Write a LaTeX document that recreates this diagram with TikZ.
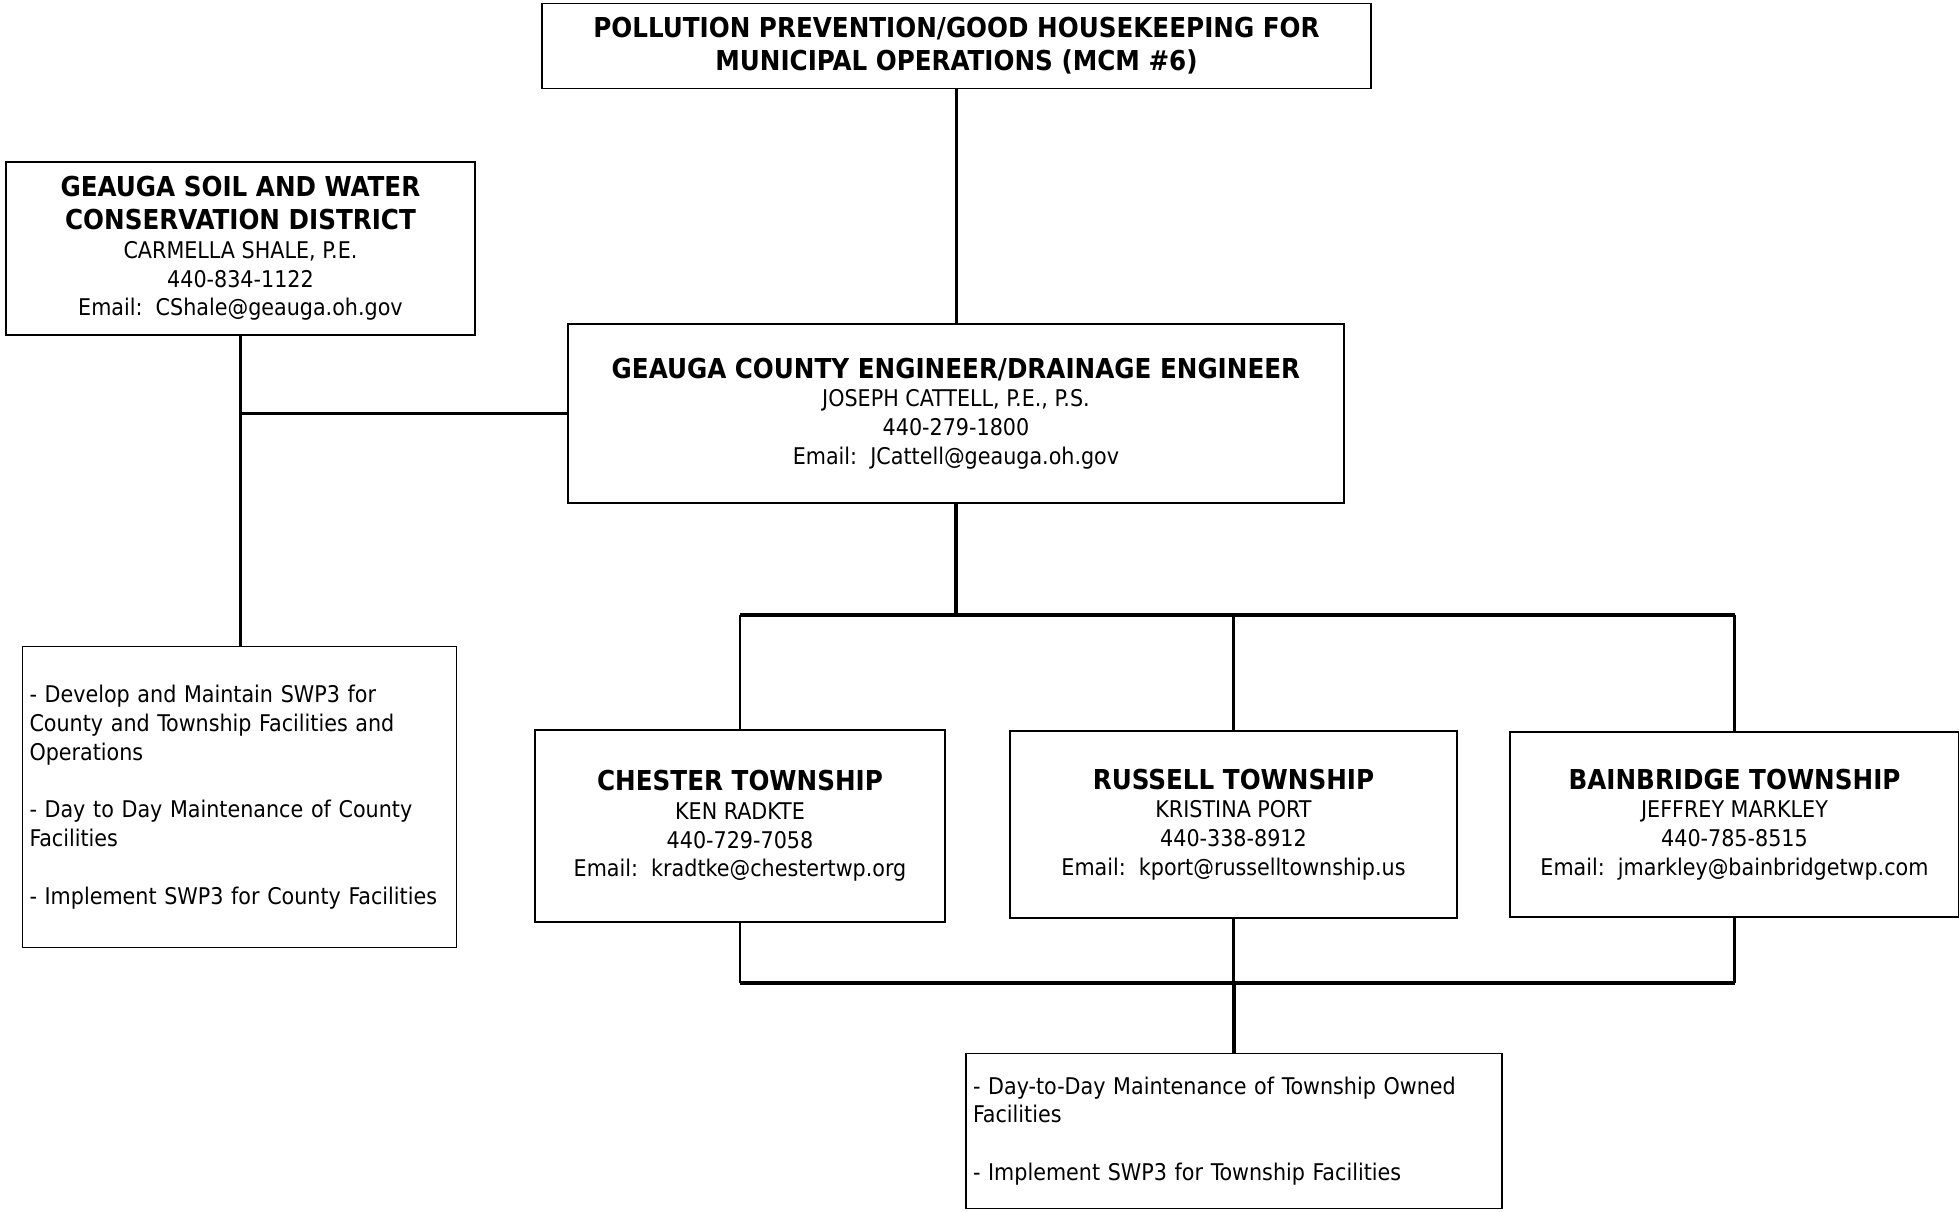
\documentclass[tikz,border=0pt]{standalone}
\usepackage{fontspec}
\setmainfont{DejaVu Sans Condensed}
\newcommand\regtxt{\fontsize{11.5}{14.4}\selectfont}
\newcommand\headtxt{\fontsize{13.7}{18.3}\selectfont\bfseries}
\tikzset{
	box/.style={draw,line width=0.9pt,inner sep=2pt,align=center,font=\regtxt},
	taskbox/.style={box,align=left,inner sep=3.5pt},
	trunk/.style={line width=1.9pt},
	twig/.style={line width=1.2pt}
}
\begin{document}
\begin{tikzpicture}[x=0.5pt,y=-0.5pt]
	\useasboundingbox (0,0) rectangle (1959,1211);
	% top and county level
	\node[box,minimum width=414.5pt,minimum height=42.5pt] (title) at (956.5,46)
		{\headtxt POLLUTION PREVENTION/GOOD HOUSEKEEPING FOR\\[2pt]\headtxt MUNICIPAL OPERATIONS (MCM \#6)};
	\node[box,minimum width=234.5pt,minimum height=86.5pt] (soil) at (240.5,248.5)
		{\headtxt GEAUGA SOIL AND WATER\\[2pt]\headtxt CONSERVATION DISTRICT\\CARMELLA SHALE, P.E.\\440-834-1122\\Email:\ \ CShale@geauga.oh.gov};
	\node[box,minimum width=388pt,minimum height=89.5pt] (eng) at (956,413.5)
		{\headtxt GEAUGA COUNTY ENGINEER/DRAINAGE ENGINEER\\JOSEPH CATTELL, P.E., P.S.\\440-279-1800\\Email:\ \ JCattell@geauga.oh.gov};
	\node[taskbox,text width=210pt,minimum height=150.5pt] (tasksL) at (239.5,797)
		{- Develop and Maintain SWP3 for\\County and Township Facilities and\\Operations\\[14.4pt]- Day to Day Maintenance of County\\Facilities\\[14.4pt]- Implement SWP3 for County Facilities};
	% townships
	\node[box,minimum width=205pt,minimum height=96pt] (chester) at (740,826)
		{\headtxt CHESTER TOWNSHIP\\KEN RADKTE\\440-729-7058\\Email:\ \ kradtke@chestertwp.org};
	\node[box,minimum width=223.5pt,minimum height=93.5pt] (russell) at (1233.5,824.5)
		{\headtxt RUSSELL TOWNSHIP\\KRISTINA PORT\\440-338-8912\\Email:\ \ kport@russelltownship.us};
	\node[box,minimum width=224.5pt,minimum height=92.5pt] (bain) at (1734.5,824.5)
		{\headtxt BAINBRIDGE TOWNSHIP\\JEFFREY MARKLEY\\440-785-8515\\Email:\ \ jmarkley@bainbridgetwp.com};
	\node[taskbox,text width=261pt,minimum height=77.5pt] (tasksB) at (1234,1131)
		{- Day-to-Day Maintenance of Township Owned\\Facilities\\[14.4pt]- Implement SWP3 for Township Facilities};
	% lines
	\draw[trunk] (title.south) -- (title.south |- eng.north);
	\draw[trunk] (soil.south) -- (soil.south |- tasksL.north);
	\draw[trunk] (soil.south |- eng.west) -- (eng.west);
	\coordinate (bus) at (957,615);
	\coordinate (base) at (1233,983);
	\draw[trunk] (eng.south) -- (eng.south |- bus);
	\draw[trunk] (chester.north |- bus) -- (bain.north |- bus);
	\foreach \t in {chester,russell,bain} {
		\draw[twig] (\t.north) -- (\t.north |- bus);
		\draw[twig] (\t.south) -- (\t.south |- base);
	}
	\draw[trunk] (chester.south |- base) -- (bain.south |- base);
	\draw[trunk] (tasksB.north |- base) -- (tasksB.north);
\end{tikzpicture}
\end{document}
